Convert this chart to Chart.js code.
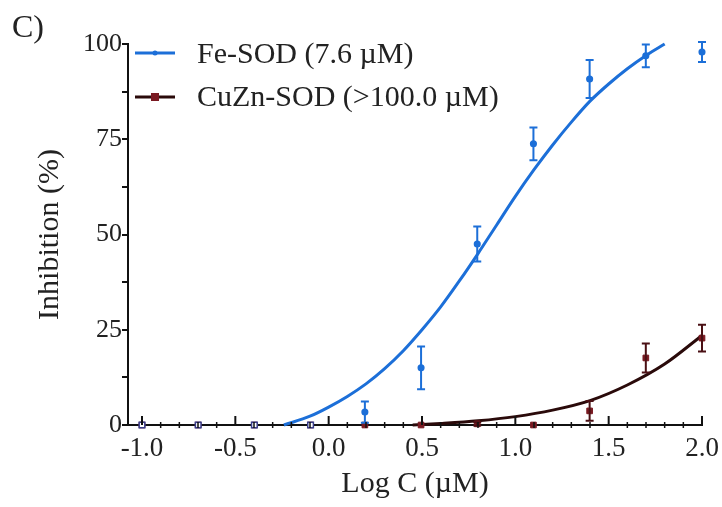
<!DOCTYPE html>
<html>
<head>
<meta charset="utf-8">
<script src="https://cdn.jsdelivr.net/npm/chart.js@4"></script>
<style>
  html, body { margin: 0; padding: 0; background: #fff; }
  #wrap { width: 722px; height: 507px; position: relative; }
</style>
</head>
<body>
<div id="wrap"><canvas id="chart"></canvas></div>
<script>
// measured points (log of concentration in uM)
const logC = [-1.0, -0.699, -0.398, -0.097, 0.194, 0.495, 0.796, 1.097, 1.398, 1.699, 2.0];
const feMean = [0, 0, 0, 0, 3.4, 15.0, 47.5, 73.8, 90.8, 96.9, 97.9];
const feErr = [0, 0, 0, 0, 2.8, 5.6, 4.6, 4.3, 5.0, 3.0, 2.6];
const cuznMean = [0, 0, 0, 0, 0, 0, 0.3, 0, 3.7, 17.6, 22.8];
const cuznErr = [0, 0, 0, 0, 0, 0, 0.4, 0, 2.6, 3.8, 3.5];

// fitted curves
const feFitX = [-0.24, -0.1, 0.0, 0.1, 0.2, 0.3, 0.4, 0.5, 0.6, 0.7, 0.8, 0.9, 1.0, 1.1, 1.2, 1.3, 1.4, 1.5, 1.6, 1.7, 1.8];
const feFitY = [0, 2.3, 4.7, 7.5, 10.8, 14.8, 19.5, 25.0, 31.0, 37.8, 45.0, 52.5, 60.0, 67.0, 73.5, 79.5, 85.0, 89.5, 93.5, 97.0, 100];
const cuznFitX = [0.45, 0.6, 0.8, 1.0, 1.2, 1.4, 1.6, 1.8, 2.0];
const cuznFitY = [0, 0.4, 1.1, 2.2, 3.9, 6.4, 10.5, 16.0, 23.5];

const xTicks = [-1.0, -0.5, 0.0, 0.5, 1.0, 1.5, 2.0];
const yTicks = [0, 25, 50, 75, 100];
const seriesNames = ["Fe-SOD (7.6 \u00b5M)", "CuZn-SOD (>100.0 \u00b5M)"];

const blue = "#1c6fd8";
const darkRed = "#7a1a22";
const curveDark = "#2a0a0a";
const serif = "'Liberation Serif', 'DejaVu Serif', serif";

function pts(xs, ys) {
  return xs.map((x, i) => ({ x: x, y: ys[i] }));
}

// error bars + axis minor ticks + legend + panel letter
const extras = {
  id: "extras",
  afterDatasetsDraw(chart) {
    const ctx = chart.ctx;
    const xs = chart.scales.x, ys = chart.scales.y;
    chart.data.datasets.forEach(ds => {
      if (!ds.errors) return;
      ctx.save();
      ctx.strokeStyle = ds.errorColor;
      ctx.lineWidth = 2;
      ds.data.forEach((p, i) => {
        const e = ds.errors[i];
        if (!e) return;
        const px = xs.getPixelForValue(p.x);
        const top = ys.getPixelForValue(p.y + e);
        const bot = ys.getPixelForValue(p.y - e);
        ctx.beginPath();
        ctx.moveTo(px, top); ctx.lineTo(px, bot);
        ctx.moveTo(px - 4, top); ctx.lineTo(px + 4, top);
        ctx.moveTo(px - 4, bot); ctx.lineTo(px + 4, bot);
        ctx.stroke();
      });
      ctx.restore();
    });
  },
  afterDraw(chart) {
    const ctx = chart.ctx;
    const xs = chart.scales.x, ys = chart.scales.y;
    const y0 = ys.getPixelForValue(0);
    ctx.save();
    ctx.strokeStyle = "#111";
    // x axis ticks: minor every 0.1, major every 0.5 (pointing in)
    for (let k = -10; k <= 20; k++) {
      const v = k / 10;
      const px = xs.getPixelForValue(v);
      ctx.beginPath();
      if (k % 5 === 0) {
        ctx.lineWidth = 2;
        ctx.moveTo(px, y0); ctx.lineTo(px, y0 - 9);
      } else {
        ctx.lineWidth = 1.5;
        ctx.moveTo(px, y0 - 3); ctx.lineTo(px, y0 + 3);
      }
      ctx.stroke();
    }
    // legend
    const rows = [
      { y: 53, color: blue, mark: "dot", text: seriesNames[0], base: 63 },
      { y: 97, color: curveDark, mark: "sq", text: seriesNames[1], base: 106 }
    ];
    rows.forEach(r => {
      ctx.strokeStyle = r.color;
      ctx.lineWidth = 3;
      ctx.beginPath();
      ctx.moveTo(135, r.y); ctx.lineTo(175, r.y);
      ctx.stroke();
      if (r.mark === "dot") {
        ctx.fillStyle = blue;
        ctx.beginPath(); ctx.arc(155, r.y, 2.5, 0, Math.PI * 2); ctx.fill();
      } else {
        ctx.fillStyle = darkRed;
        ctx.fillRect(151, r.y - 4, 8, 8);
      }
      ctx.fillStyle = "#222";
      ctx.font = "30px " + serif;
      ctx.textBaseline = "alphabetic";
      ctx.textAlign = "left";
      ctx.fillText(r.text, 197, r.base);
    });
    // panel letter
    ctx.font = "32px " + serif;
    ctx.fillStyle = "#222";
    ctx.fillText("C)", 12, 37);
    ctx.restore();
  }
};

new Chart(document.getElementById("chart"), {
  type: "scatter",
  data: {
    datasets: [
      {
        label: seriesNames[0],
        data: pts(logC, feMean),
        errors: feErr,
        errorColor: blue,
        pointStyle: logC.map(x => x < 0 ? "rect" : "circle"),
        pointRadius: logC.map(x => x < 0 ? 4 : 2.8),
        pointBackgroundColor: logC.map(x => x < 0 ? "#ffffff" : blue),
        pointBorderColor: logC.map(x => x < 0 ? "#3a3f8c" : blue),
        pointBorderWidth: 1.5,
        clip: false,
        order: 1
      },
      {
        label: seriesNames[1],
        data: pts(logC, cuznMean),
        errors: cuznErr,
        errorColor: "#4a1014",
        pointStyle: "rect",
        pointRadius: 4,
        pointBackgroundColor: darkRed,
        pointBorderColor: darkRed,
        clip: false,
        order: 2
      },
      {
        label: "Fe fit",
        data: pts(feFitX, feFitY),
        showLine: true,
        borderColor: blue,
        borderWidth: 3,
        pointRadius: 0,
        cubicInterpolationMode: "monotone",
        clip: false,
        order: 3
      },
      {
        label: "CuZn fit",
        data: pts(cuznFitX, cuznFitY),
        showLine: true,
        borderColor: curveDark,
        borderWidth: 3,
        pointRadius: 0,
        cubicInterpolationMode: "monotone",
        clip: false,
        order: 3
      }
    ]
  },
  options: {
    responsive: true,
    maintainAspectRatio: false,
    animation: false,
    layout: { padding: { top: 44, right: 20, left: 0, bottom: 0 } },
    plugins: {
      legend: { display: false },
      tooltip: { enabled: false }
    },
    scales: {
      x: {
        type: "linear",
        min: -1.075,
        max: 2.0,
        afterBuildTicks: s => { s.ticks = xTicks.map(v => ({ value: v })); },
        afterFit: s => { s.height = 82; s.paddingLeft = 0; s.paddingRight = 0; },
        border: { color: "#111", width: 2 },
        grid: { display: true, drawOnChartArea: false, drawTicks: false },
        ticks: {
          autoSkip: false,
          maxRotation: 0,
          padding: 8,
          color: "#222",
          font: { family: serif, size: 27 },
          callback: v => v.toFixed(1)
        },
        title: {
          display: true,
          text: "Log C (\u00b5M)",
          color: "#222",
          font: { family: serif, size: 30 },
          padding: { top: 0, bottom: 5 }
        }
      },
      y: {
        min: 0,
        max: 100,
        afterBuildTicks: s => {
          const t = [];
          for (let v = 0; v <= 100; v += 12.5) t.push({ value: v });
          s.ticks = t;
        },
        afterFit: s => { s.width = 128; s.paddingTop = 0; s.paddingBottom = 0; },
        border: { color: "#111", width: 2 },
        grid: { drawOnChartArea: false, drawTicks: true, tickLength: 6, color: "#111", lineWidth: 2 },
        ticks: {
          padding: 0,
          color: "#222",
          font: { family: serif, size: 26 },
          callback: v => yTicks.includes(v) ? String(v) : ""
        },
        title: {
          display: true,
          text: "Inhibition (%)",
          color: "#222",
          font: { family: serif, size: 30 },
          padding: { top: 32, bottom: 0 }
        }
      }
    }
  },
  plugins: [extras]
});
</script>
</body>
</html>
